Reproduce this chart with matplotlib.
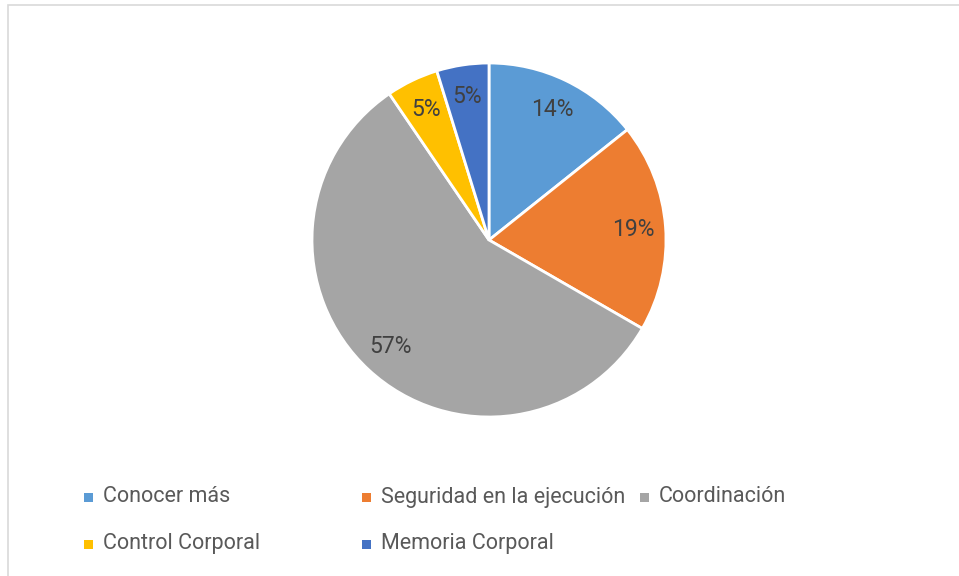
import matplotlib.pyplot as plt
from matplotlib.patches import Rectangle

labels = ['Conocer más', 'Seguridad en la ejecución', 'Coordinación',
          'Control Corporal', 'Memoria Corporal']
counts = [3, 4, 12, 1, 1]
colors = ['#5B9BD5', '#ED7D31', '#A5A5A5', '#FFC000', '#4472C4']

plt.rcParams['font.family'] = ['Roboto', 'DejaVu Sans']

W, H = 959, 576
fig = plt.figure(figsize=(W / 100, H / 100), dpi=100)

# chart area border (runs off the right/bottom edge)
fig.patches.append(Rectangle((8 / W, -0.1), 1.2, (H - 5) / H + 0.1,
                             transform=fig.transFigure, fill=False,
                             edgecolor='#d9d9d9', lw=1.2))

# pie: centre (489, 240) px, radius 177 px
cx, cy, r = 489, 240, 177
ax = fig.add_axes([(cx - r) / W, (H - cy - r) / H, 2 * r / W, 2 * r / H])
wedges, texts, autotexts = ax.pie(
    counts, colors=colors, startangle=90, counterclock=False,
    autopct='%.0f%%', pctdistance=0.82, radius=1,
    wedgeprops=dict(edgecolor='white', linewidth=2),
    textprops=dict(fontsize=16.5, color='#404040'))
ax.set_xlim(-1, 1)
ax.set_ylim(-1, 1)
ax.axis('off')

# legend, Excel style: uniform column width
x0, colw = 88, 278
rows_y = [497, 544]
for i, (lab, col) in enumerate(zip(labels, colors)):
    c, rw = i % 3, i // 3
    x = x0 + c * colw
    y = rows_y[rw]
    fig.patches.append(Rectangle(((x - 4.5) / W, (H - y - 4.5) / H), 9 / W, 9 / H,
                                 transform=fig.transFigure, facecolor=col,
                                 edgecolor='none'))
    fig.text((x + 15) / W, (H - y) / H, lab, fontsize=15.5, color='#595959',
             ha='left', va='center')

fig.savefig('out.png', dpi=100)
